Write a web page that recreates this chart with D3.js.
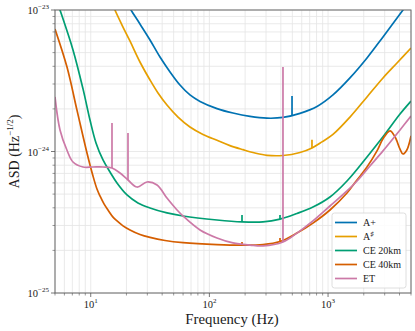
<!DOCTYPE html>
<html><head><meta charset="utf-8">
<script src="https://cdn.jsdelivr.net/npm/d3@7"></script>
<style>
body{margin:0;background:#fff}
svg{display:block}
</style>
</head><body><svg id="c" width="415" height="331" font-family="'Liberation Serif', 'Times New Roman', Times, 'DejaVu Serif', serif"></svg>
<script>
// ---- data ----
const seriesNames = ["A+", "A♯", "CE 20km", "CE 40km", "ET"];
const seriesColors = ["#0072B2", "#E69F00", "#009E73", "#D55E00", "#CC79A7"];

const freqAplus = [19.45, 21.85, 26.0, 31.6, 38.35, 46.6, 56.5, 68.6, 83.4, 115.9, 158, 220, 306, 417, 580, 807, 1100, 1530, 2129, 2904, 4280, 4718];
const asdAplus  = [1.18e-23, 1.0e-23, 7.96e-24, 6.14e-24, 4.65e-24, 3.65e-24, 2.95e-24, 2.51e-24, 2.26e-24, 2.01e-24, 1.87e-24, 1.77e-24, 1.72e-24, 1.74e-24, 1.86e-24, 2.08e-24, 2.51e-24, 3.31e-24, 4.58e-24, 6.45e-24, 1.0e-23, 1.12e-23];

const freqAsharp = [14.8, 16.0, 18.35, 21.4, 26.0, 31.6, 36.9, 43.9, 54.4, 68.6, 88.3, 115.9, 149, 192, 242, 306, 417, 580, 732, 889, 1100, 1530, 2129, 2904, 3810, 5000];
const asdAsharp  = [1.18e-23, 1.0e-23, 7.83e-24, 6.04e-24, 4.29e-24, 3.20e-24, 2.59e-24, 2.13e-24, 1.75e-24, 1.49e-24, 1.32e-24, 1.20e-24, 1.10e-24, 1.03e-24, 9.76e-25, 9.40e-25, 9.37e-25, 9.84e-25, 1.06e-24, 1.17e-24, 1.32e-24, 1.75e-24, 2.43e-24, 3.31e-24, 4.22e-24, 5.39e-24];

const freqCE20 = [5.3, 5.51, 7.09, 8.61, 9.86, 11.08, 12.69, 14.54, 16.65, 20.22, 25.0, 31.6, 43.9, 60, 115.9, 188, 283, 394, 547, 746, 1038, 1444, 2129, 2904, 4040, 5000];
const asdCE20  = [1.1e-23, 1.0e-23, 5.22e-24, 2.77e-24, 1.67e-24, 1.15e-24, 8.71e-25, 7.16e-25, 5.99e-25, 4.93e-25, 4.33e-25, 3.99e-25, 3.68e-25, 3.50e-25, 3.28e-25, 3.18e-25, 3.18e-25, 3.33e-25, 3.65e-25, 4.05e-25, 4.77e-25, 6.19e-25, 9.15e-25, 1.27e-24, 1.84e-24, 2.27e-24];

const freqCE40 = [5.0, 6.31, 7.66, 9.30, 10.45, 11.29, 11.97, 12.94, 13.98, 15.41, 16.65, 18.71, 21.43, 26.0, 31.6, 42.3, 60, 115.9, 188, 283, 394, 547, 746, 1038, 1444, 1753, 2129, 2585, 2904, 3327, 3665, 4040, 4280, 4600, 5000];
const asdCE40  = [7.34e-24, 3.95e-24, 1.96e-24, 9.76e-25, 6.71e-25, 5.43e-25, 4.85e-25, 4.26e-25, 3.86e-25, 3.44e-25, 3.23e-25, 2.98e-25, 2.79e-25, 2.59e-25, 2.47e-25, 2.35e-25, 2.27e-25, 2.20e-25, 2.18e-25, 2.20e-25, 2.31e-25, 2.65e-25, 3.12e-25, 3.86e-25, 5.09e-25, 6.29e-25, 7.77e-25, 1.01e-24, 1.23e-24, 1.40e-24, 1.27e-24, 1.04e-24, 9.60e-25, 1.02e-24, 1.29e-24];

const freqET = [5.0, 5.51, 6.31, 7.09, 8.61, 10.45, 12.69, 15.11, 17.65, 20.61, 24.55, 29.8, 36.2, 43.9, 53.4, 60, 83.4, 115.9, 158, 220, 283, 417, 547, 746, 1038, 1444, 1788, 2256, 2904, 4040, 5000];
const asdET  = [2.43e-24, 1.42e-24, 1.02e-24, 8.43e-25, 7.77e-25, 7.77e-25, 7.77e-25, 7.65e-25, 7.05e-25, 6.29e-25, 5.61e-25, 6.09e-25, 5.80e-25, 4.69e-25, 3.86e-25, 3.50e-25, 2.79e-25, 2.45e-25, 2.26e-25, 2.18e-25, 2.15e-25, 2.29e-25, 2.65e-25, 3.23e-25, 4.12e-25, 5.26e-25, 6.29e-25, 7.90e-25, 1.01e-24, 1.42e-24, 1.78e-24];

// narrow spectral lines: series index, frequency, base ASD, peak ASD
const lineSeries = [0, 1, 2, 2, 3, 3, 4, 4, 4];
const lineFreq   = [497, 732, 188.3, 393.6, 188.3, 393.6, 15.11, 20.61, 417];
const lineBase   = [1.80e-24, 1.06e-24, 3.18e-25, 3.33e-25, 2.18e-25, 2.31e-25, 7.65e-25, 6.29e-25, 2.29e-25];
const linePeak   = [2.47e-24, 1.21e-24, 3.56e-25, 3.56e-25, 2.29e-25, 2.45e-25, 1.59e-24, 1.35e-24, 3.95e-24];

const xMajorTicks = [10, 100, 1000];
const xMajorLabels = ["1", "2", "3"];      // exponents of 10
const yMajorTicks = [1e-25, 1e-24, 1e-23];
const yMajorLabels = ["−25", "−24", "−23"]; // exponents of 10
const xLabel = "Frequency (Hz)";
const yLabelMain = "ASD (Hz";
const yLabelSup = "−1/2";

// ---- layout ----
const W = 415, H = 331;
const m = {l: 55, r: 4, t: 10, b: 38};
const pw = W - m.l - m.r, ph = H - m.t - m.b;

const x = d3.scaleLog().domain([5, 5000]).range([m.l, m.l + pw]);
const y = d3.scaleLog().domain([1e-25, 1e-23]).range([m.t + ph, m.t]);

const svg = d3.select("#c");

const xMinor = [];
[1, 10, 100, 1000].forEach(d => { for (let k = 2; k <= 9; k++) { const v = d * k; if (v >= 5 && v <= 5000) xMinor.push(v); } });
const yMinor = [];
[1e-25, 1e-24].forEach(d => { for (let k = 2; k <= 9; k++) yMinor.push(d * k); });

// grid
const grid = svg.append("g");
grid.selectAll(".gx").data(xMinor.concat(xMajorTicks)).join("line")
  .attr("x1", d => x(d)).attr("x2", d => x(d)).attr("y1", m.t).attr("y2", m.t + ph)
  .attr("stroke", "#e4e4e4").attr("stroke-width", 0.8);
grid.selectAll(".gy").data(yMinor.concat(yMajorTicks)).join("line")
  .attr("y1", d => y(d)).attr("y2", d => y(d)).attr("x1", m.l).attr("x2", m.l + pw)
  .attr("stroke", "#e4e4e4").attr("stroke-width", 0.8);

svg.append("clipPath").attr("id", "clip").append("rect")
  .attr("x", m.l).attr("y", m.t).attr("width", pw).attr("height", ph);

const series = [
  [freqAplus, asdAplus], [freqAsharp, asdAsharp], [freqCE20, asdCE20], [freqCE40, asdCE40], [freqET, asdET]
].map((p, i) => ({name: seriesNames[i], color: seriesColors[i], pts: p[0].map((f, j) => [f, p[1][j]])}));

const line = d3.line().x(d => x(d[0])).y(d => y(d[1])).curve(d3.curveCatmullRom.alpha(0.5));
const lg = svg.append("g").attr("clip-path", "url(#clip)");
series.forEach((s, i) => {
  lg.append("path").attr("d", line(s.pts)).attr("fill", "none")
    .attr("stroke", s.color).attr("stroke-width", 1.7).attr("stroke-linejoin", "round");
  lineFreq.forEach((f, j) => {
    if (lineSeries[j] !== i) return;
    lg.append("line").attr("x1", x(f)).attr("x2", x(f))
      .attr("y1", y(lineBase[j])).attr("y2", y(linePeak[j]))
      .attr("stroke", s.color).attr("stroke-width", 1.7);
  });
});

// frame
svg.append("rect").attr("x", m.l).attr("y", m.t).attr("width", pw).attr("height", ph)
  .attr("fill", "none").attr("stroke", "#666").attr("stroke-width", 1);

// ticks
const tickCol = "#555";
const tg = svg.append("g");
tg.selectAll(".xmaj").data(xMajorTicks).join("line")
  .attr("x1", d => x(d)).attr("x2", d => x(d)).attr("y1", m.t + ph).attr("y2", m.t + ph + 4)
  .attr("stroke", tickCol).attr("stroke-width", 0.8);
tg.selectAll(".xmin").data(xMinor).join("line")
  .attr("x1", d => x(d)).attr("x2", d => x(d)).attr("y1", m.t + ph).attr("y2", m.t + ph + 2.5)
  .attr("stroke", tickCol).attr("stroke-width", 0.6);
tg.selectAll(".ymaj").data(yMajorTicks).join("line")
  .attr("y1", d => y(d)).attr("y2", d => y(d)).attr("x1", m.l).attr("x2", m.l - 4)
  .attr("stroke", tickCol).attr("stroke-width", 0.8);
tg.selectAll(".ymin").data(yMinor).join("line")
  .attr("y1", d => y(d)).attr("y2", d => y(d)).attr("x1", m.l).attr("x2", m.l - 2.5)
  .attr("stroke", tickCol).attr("stroke-width", 0.6);

// tick labels
xMajorTicks.forEach((t, i) => {
  const tx = svg.append("text").attr("x", x(t)).attr("y", m.t + ph + 15)
    .attr("text-anchor", "middle").attr("font-size", 10.5).attr("fill", "#1a1a1a");
  tx.append("tspan").text("10");
  tx.append("tspan").attr("dy", -5).attr("font-size", 7).text(xMajorLabels[i]);
});
yMajorTicks.forEach((t, i) => {
  const tx = svg.append("text").attr("x", m.l - 6).attr("y", y(t) + 4)
    .attr("text-anchor", "end").attr("font-size", 10.5).attr("fill", "#1a1a1a");
  tx.append("tspan").text("10");
  tx.append("tspan").attr("dy", -5).attr("font-size", 7).text(yMajorLabels[i]);
});

// axis labels
svg.append("text").attr("x", m.l + pw / 2 - 1).attr("y", H - 7.5)
  .attr("text-anchor", "middle").attr("font-size", 14.8).attr("fill", "#1a1a1a").text(xLabel);
const yl = svg.append("text").attr("transform", `translate(19,${m.t + ph / 2}) rotate(-90)`)
  .attr("text-anchor", "middle").attr("font-size", 14).attr("fill", "#1a1a1a");
yl.append("tspan").text(yLabelMain);
yl.append("tspan").attr("dy", -6).attr("font-size", 9).text(yLabelSup);
yl.append("tspan").attr("dy", 6).text(")");

// legend
const lgX = 332, lgY = 213, lgW = 74, lgH = 75;
const leg = svg.append("g");
leg.append("rect").attr("x", lgX).attr("y", lgY).attr("width", lgW).attr("height", lgH)
  .attr("rx", 2.5).attr("fill", "#fff").attr("fill-opacity", 0.85)
  .attr("stroke", "#d6d6d6").attr("stroke-width", 0.8);
series.forEach((s, i) => {
  const yy = lgY + 9.5 + i * 14;
  leg.append("line").attr("x1", lgX + 3).attr("x2", lgX + 25).attr("y1", yy).attr("y2", yy)
    .attr("stroke", s.color).attr("stroke-width", 1.7);
  const t = leg.append("text").attr("x", lgX + 31).attr("y", yy + 3.5)
    .attr("font-size", 10).attr("fill", "#1a1a1a");
  if (s.name === "A♯") {
    t.append("tspan").text("A");
    t.append("tspan").attr("dy", -4).attr("font-size", 7).text("♯");
  } else {
    t.text(s.name);
  }
});
</script>
</body></html>
